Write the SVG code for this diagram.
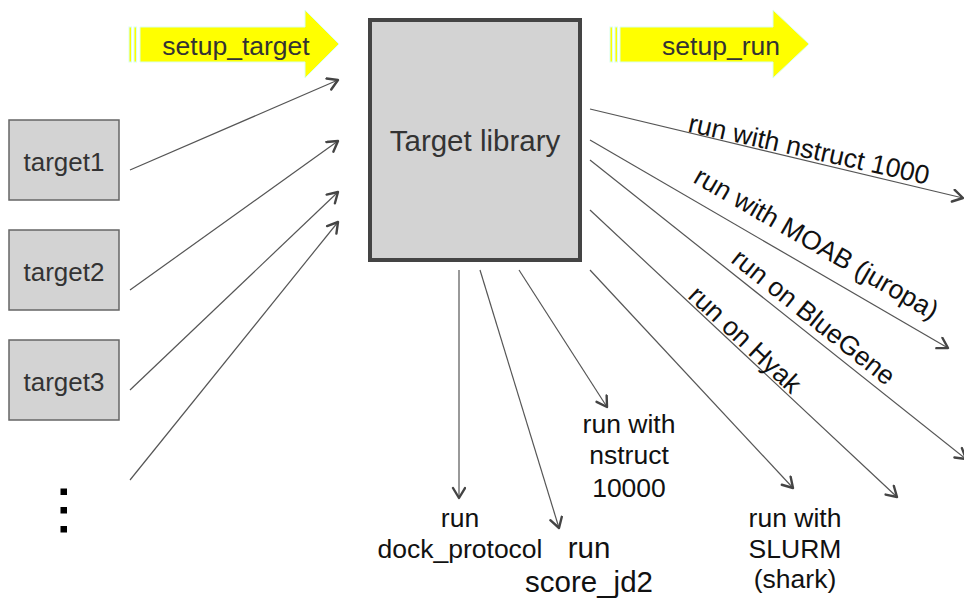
<svg xmlns="http://www.w3.org/2000/svg" width="964" height="603" viewBox="0 0 964 603">
<defs>
<marker id="ah" markerUnits="userSpaceOnUse" markerWidth="16" markerHeight="16" viewBox="0 0 16 16" refX="12" refY="7" orient="auto">
<path d="M2,1 L12,7 L2,13" fill="none" stroke="#444" stroke-width="2.4" stroke-linecap="round" stroke-linejoin="round"/>
</marker>
</defs>
<style>
text{font-family:"Liberation Sans",Arial,Helvetica,sans-serif;}
.box{fill:#d3d3d3;stroke:#666;stroke-width:1.5;}
.big{fill:#d3d3d3;stroke:#444;stroke-width:4;}
.tl{font-size:26px;fill:#333;text-anchor:middle;}
.lbl{font-size:26.5px;fill:#111;text-anchor:middle;}
.rl{font-size:26.5px;fill:#111;text-anchor:middle;}
.yel{fill:#ffff00;stroke:#d8fff0;stroke-width:1;}
.c line{stroke:#555;stroke-width:1.2;marker-end:url(#ah);}
.dot{fill:#000;}
</style>
<rect width="964" height="603" fill="#fff"/>
<g id="setup_target">
<rect class="yel" x="129" y="27" width="2.5" height="35"/>
<rect class="yel" x="134" y="27" width="2.5" height="35"/>
<polygon class="yel" points="140,27 305,27 305,10 339,44 305,78 305,62 140,62"/>
<text x="236" y="55" style="font-size:26.5px;fill:#333;text-anchor:middle">setup_target</text>
</g>
<g id="setup_run">
<rect class="yel" x="610" y="27" width="2.5" height="35"/>
<rect class="yel" x="615" y="27" width="2.5" height="35"/>
<polygon class="yel" points="620,27 773,27 773,10 809,44 773,78 773,62 620,62"/>
<text x="721" y="55" style="font-size:26.5px;fill:#333;text-anchor:middle">setup_run</text>
</g>
<g id="target_library">
<rect class="big" x="370" y="20" width="210" height="240"/>
<text x="475" y="151" style="font-size:29.5px;fill:#333;text-anchor:middle">Target library</text>
</g>
<g id="target1">
<rect class="box" x="9" y="120" width="110" height="80"/>
<text class="tl" x="64" y="171">target1</text>
</g>
<g id="target2">
<rect class="box" x="9" y="230" width="110" height="80"/>
<text class="tl" x="64" y="281">target2</text>
</g>
<g id="target3">
<rect class="box" x="9" y="340" width="110" height="80"/>
<text class="tl" x="64" y="391">target3</text>
</g>
<g id="more">
<rect class="dot" x="60.5" y="488.5" width="6.5" height="6.5"/>
<rect class="dot" x="60.5" y="507" width="6.5" height="6.5"/>
<rect class="dot" x="60.5" y="526" width="6.5" height="6.5"/>
</g>
<g id="connectors" class="c">
<line x1="130" y1="170" x2="338" y2="80"/>
<line x1="130" y1="290" x2="338" y2="141"/>
<line x1="130" y1="390" x2="338" y2="192"/>
<line x1="130" y1="480" x2="338" y2="222"/>
<line x1="590" y1="109" x2="963" y2="198"/>
<line x1="590" y1="140" x2="948" y2="348"/>
<line x1="590" y1="160" x2="966" y2="459"/>
<line x1="590" y1="210" x2="897" y2="497"/>
<line x1="590" y1="270" x2="793" y2="488"/>
<line x1="459" y1="270" x2="459" y2="498"/>
<line x1="480" y1="270" x2="559" y2="528"/>
<line x1="519" y1="270" x2="607" y2="407"/>
</g>
<g id="labels">
<text class="rl" transform="translate(807,158) rotate(12.5)">run with nstruct 1000</text>
<text class="rl" transform="translate(812,251) rotate(30)">run with MOAB (juropa)</text>
<text class="rl" transform="translate(808,324) rotate(38.6)">run on BlueGene</text>
<text class="rl" transform="translate(739,346) rotate(43)">run on Hyak</text>
<text class="lbl" x="460" y="527">run</text>
<text class="lbl" x="460" y="558">dock_protocol</text>
<text class="lbl" x="589" y="558" style="font-size:29.5px">run</text>
<text class="lbl" x="589" y="592" style="font-size:29.5px">score_jd2</text>
<text class="lbl" x="629" y="433">run with</text>
<text class="lbl" x="629" y="464">nstruct</text>
<text class="lbl" x="629" y="497">10000</text>
<text class="lbl" x="795" y="527">run with</text>
<text class="lbl" x="795" y="558">SLURM</text>
<text class="lbl" x="795" y="588">(shark)</text>
</g>
</svg>
